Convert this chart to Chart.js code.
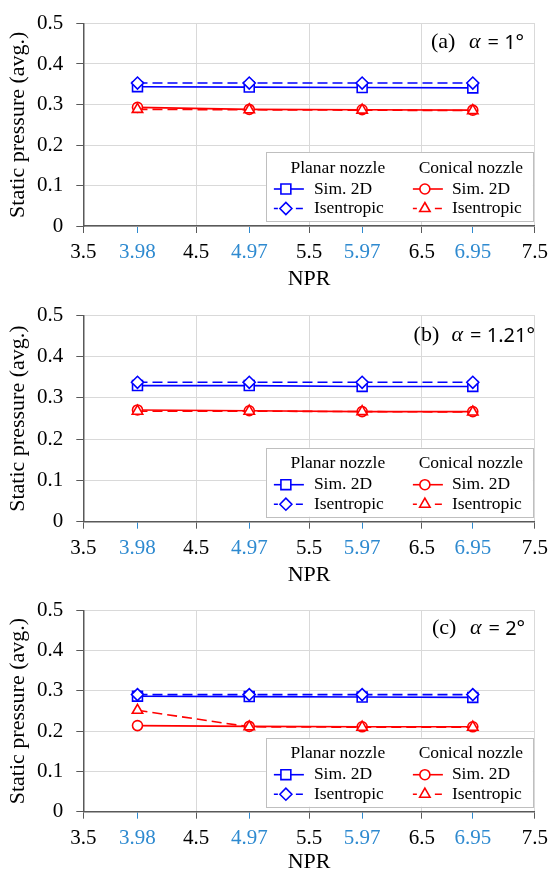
<!DOCTYPE html>
<html lang="en">
<head>
  <meta charset="UTF-8" />
  <title>Static pressure vs NPR</title>
  <style>
    html, body { margin: 0; padding: 0; background: #fff; overflow: hidden; }
    .panel { position: absolute; left: 0; }
  </style>
</head>
<body>
  <canvas id="chartA" class="panel" width="557" height="292" style="top:0px"></canvas>
  <canvas id="chartB" class="panel" width="557" height="295" style="top:292px"></canvas>
  <canvas id="chartC" class="panel" width="557" height="286" style="top:587px"></canvas>

  <script src="https://cdn.jsdelivr.net/npm/chart.js"></script>
  <script>
    // data
    const npr = [3.98, 4.97, 5.97, 6.95];
    const xTickValues = [3.5, 3.98, 4.5, 4.97, 5.5, 5.97, 6.5, 6.95, 7.5];
    const xTickLabels = ['3.5', '3.98', '4.5', '4.97', '5.5', '5.97', '6.5', '6.95', '7.5'];
    const yTickLabels = ['0', '0.1', '0.2', '0.3', '0.4', '0.5'];

    const panelTags = ['(a)', '(b)', '(c)'];
    const alphaTexts = ['= 1°', '= 1.21°', '= 2°'];
    const groupNames = ['Planar nozzle', 'Conical nozzle'];
    const seriesNames = ['Sim. 2D', 'Isentropic', 'Sim. 2D', 'Isentropic'];

    const planarSimA = [0.344, 0.343, 0.342, 0.341];
    const planarIsenA = [0.353, 0.353, 0.353, 0.353];
    const conicalSimA = [0.293, 0.288, 0.287, 0.286];
    const conicalIsenA = [0.288, 0.287, 0.286, 0.285];

    const planarSimB = [0.330, 0.330, 0.328, 0.328];
    const planarIsenB = [0.338, 0.338, 0.338, 0.338];
    const conicalSimB = [0.271, 0.269, 0.267, 0.267];
    const conicalIsenB = [0.268, 0.268, 0.267, 0.266];

    const planarSimC = [0.287, 0.286, 0.285, 0.284];
    const planarIsenC = [0.291, 0.291, 0.291, 0.291];
    const conicalSimC = [0.214, 0.212, 0.211, 0.211];
    const conicalIsenC = [0.252, 0.211, 0.210, 0.210];

    const BLUE = '#0000ff';
    const RED = '#ff0000';
    const TICK_BLUE = '#2e8ad0';
    const SERIF = '"Liberation Serif", "Times New Roman", serif';

    const styles = [
      { color: BLUE, dash: [], point: 'rect', radius: 7 },
      { color: BLUE, dash: [10, 5], point: 'rectRot', radius: 6 },
      { color: RED, dash: [], point: 'circle', radius: 5 },
      { color: RED, dash: [10, 5], point: 'triangle', radius: 6 }
    ];

    function makeDatasets(series) {
      return series.map((vals, i) => ({
        label: seriesNames[i],
        data: npr.map((x, j) => ({ x: x, y: vals[j] })),
        borderColor: styles[i].color,
        backgroundColor: '#ffffff',
        borderWidth: 1.6,
        borderDash: styles[i].dash,
        pointStyle: styles[i].point,
        pointRadius: styles[i].radius,
        pointBorderWidth: 1.6,
        pointBorderColor: styles[i].color,
        pointBackgroundColor: '#ffffff',
        tension: 0,
        order: 4 - i
      }));
    }

    function drawMarker(ctx, style, radius, x, y) {
      if (Chart.helpers && Chart.helpers.drawPoint) {
        Chart.helpers.drawPoint(ctx, { pointStyle: style, radius: radius, rotation: 0, borderWidth: 1.6 }, x, y);
        return;
      }
      ctx.beginPath();
      ctx.arc(x, y, radius, 0, Math.PI * 2);
      ctx.fill();
      ctx.stroke();
    }

    const nozzleLegend = {
      id: 'nozzleLegend',
      afterDraw(chart) {
        const a = chart.chartArea;
        const ctx = chart.ctx;
        const W = 267, H = 69;
        const R = a.right - 2, B = a.bottom - 5;
        const L = R - W, T = B - H;
        ctx.save();
        ctx.fillStyle = '#fff';
        ctx.fillRect(L, T, W, H);
        ctx.strokeStyle = '#bfbfbf';
        ctx.lineWidth = 1;
        ctx.strokeRect(Math.round(L) + 0.5, Math.round(T) + 0.5, W, H);

        ctx.fillStyle = '#000';
        ctx.font = '17.5px ' + SERIF;
        ctx.textBaseline = 'middle';
        ctx.textAlign = 'center';
        ctx.fillText(groupNames[0], L + 72, T + 16);
        ctx.fillText(groupNames[1], L + 205, T + 16);

        ctx.textAlign = 'left';
        chart.data.datasets.forEach((ds, i) => {
          const col = i < 2 ? 0 : 1;
          const row = i % 2;
          const x0 = L + (col ? 147 : 8);
          const y = T + (row ? 56.5 : 37);
          const st = styles[i];
          ctx.strokeStyle = st.color;
          ctx.lineWidth = 1.6;
          ctx.setLineDash(st.dash.length ? [4, 18, 7, 30] : []);
          ctx.beginPath();
          ctx.moveTo(x0, y);
          ctx.lineTo(x0 + 30, y);
          ctx.stroke();
          ctx.setLineDash([]);
          ctx.fillStyle = '#fff';
          drawMarker(ctx, st.point, st.radius, x0 + 12, y);
          ctx.fillStyle = '#000';
          ctx.fillText(ds.label, L + (col ? 186 : 48), y);
        });
        ctx.restore();
      }
    };

    const panelTag = {
      id: 'panelTag',
      afterDraw(chart) {
        const o = chart.options.plugins.panelTag;
        const ctx = chart.ctx;
        const y = chart.chartArea.top + o.dy;
        ctx.save();
        ctx.fillStyle = '#000';
        ctx.textBaseline = 'middle';
        ctx.textAlign = 'left';
        ctx.font = '22px ' + SERIF;
        ctx.fillText(o.tag, o.x, y);
        ctx.font = 'italic 22px ' + SERIF;
        ctx.fillText('α', o.x + 38, y);
        ctx.font = '20px "Noto Sans", sans-serif';
        ctx.fillText(o.alpha, o.x + 56.5, y + 1);
        ctx.restore();
      }
    };

    function makeChart(id, series, p) {
      const ctx = document.getElementById(id).getContext('2d');
      return new Chart(ctx, {
        type: 'line',
        data: { datasets: makeDatasets(series) },
        options: {
          responsive: false,
          animation: false,
          layout: { padding: { top: p.padTop, right: 15, left: 0, bottom: 0 } },
          plugins: {
            legend: { display: false },
            tooltip: { enabled: false },
            panelTag: { tag: p.tag, alpha: p.alpha, x: p.tagX, dy: p.tagDy }
          },
          scales: {
            x: {
              type: 'linear',
              min: 3.5,
              max: 7.5,
              afterBuildTicks: s => { s.ticks = xTickValues.map(v => ({ value: v })); },
              afterFit: s => { s.height = p.xHeight; },
              ticks: {
                autoSkip: false,
                maxRotation: 0,
                padding: 9,
                font: { family: SERIF, size: 21, lineHeight: 1 },
                color: c => (c.index % 2 ? TICK_BLUE : '#000'),
                callback: (v, i) => xTickLabels[i]
              },
              grid: {
                color: c => (c.index % 2 ? 'rgba(0,0,0,0)' : '#d9d9d9'),
                tickColor: c => (c.index % 2 ? TICK_BLUE : '#595959'),
                tickLength: 7,
                lineWidth: 1
              },
              border: { color: '#595959', width: 1.5 },
              title: {
                display: true,
                text: 'NPR',
                color: '#000',
                font: { family: SERIF, size: 22, lineHeight: 1 },
                padding: { top: 0, bottom: p.titlePad }
              }
            },
            y: {
              min: 0,
              max: 0.5,
              afterFit: s => { s.width = 83.3; },
              ticks: {
                stepSize: 0.1,
                padding: 13,
                font: { family: SERIF, size: 21, lineHeight: 1 },
                color: '#000',
                callback: (v, i) => yTickLabels[i]
              },
              grid: { color: '#d9d9d9', tickColor: '#595959', tickLength: 7, lineWidth: 1 },
              border: { color: '#595959', width: 1.5 },
              title: {
                display: true,
                text: 'Static pressure (avg.)',
                color: '#000',
                font: { family: SERIF, size: 22, lineHeight: 1 },
                padding: { top: 7, bottom: 0 }
              }
            }
          }
        },
        plugins: [nozzleLegend, panelTag]
      });
    }

    makeChart('chartA', [planarSimA, planarIsenA, conicalSimA, conicalIsenA],
      { padTop: 14.7, xHeight: 66, titlePad: 2, tag: panelTags[0], alpha: alphaTexts[0], tagX: 431, tagDy: 18.3 });
    makeChart('chartB', [planarSimB, planarIsenB, conicalSimB, conicalIsenB],
      { padTop: 14.7, xHeight: 65.3, titlePad: 1, tag: panelTags[1], alpha: alphaTexts[1], tagX: 413.6, tagDy: 20 });
    makeChart('chartC', [planarSimC, planarIsenC, conicalSimC, conicalIsenC],
      { padTop: 10.7, xHeight: 61.3, titlePad: 0, tag: panelTags[2], alpha: alphaTexts[2], tagX: 432, tagDy: 18 });
  </script>
</body>
</html>
